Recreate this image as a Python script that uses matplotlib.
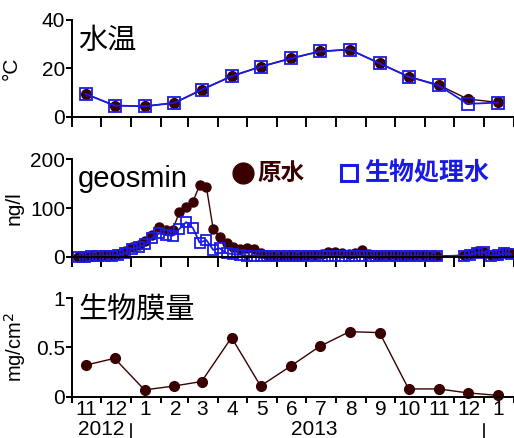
import numpy as np
import matplotlib.pyplot as plt
import matplotlib.dates as mdates
import matplotlib.transforms as mtransforms

plt.rcParams['font.family'] = ['Liberation Sans', 'Noto Sans CJK JP']

maroon = '#3a0000'
blue = '#1a1ae6'

# monthly samples (water temp, biofilm)
month_dates = ['2012-11-15', '2012-12-15', '2013-01-15', '2013-02-15', '2013-03-15',
               '2013-04-15', '2013-05-15', '2013-06-15', '2013-07-15', '2013-08-15',
               '2013-09-15', '2013-10-15', '2013-11-15', '2013-12-15', '2014-01-15']
temp_raw = [9.5, 4.7, 4.4, 5.8, 11.2, 16.8, 20.7, 24.1, 27.0, 27.8, 22.1, 16.6, 13.2, 7.4, 6.0]
temp_bio = [9.5, 4.7, 4.4, 5.8, 11.2, 16.8, 20.7, 24.1, 27.0, 27.8, 22.1, 16.6, 13.0, 5.4, 5.9]
biofilm = [0.32, 0.39, 0.07, 0.11, 0.155, 0.60, 0.11, 0.31, 0.51, 0.66, 0.65, 0.08, 0.08, 0.04, 0.015]

# weekly geosmin samples
geo_dates = ['2012-11-07', '2012-11-14', '2012-11-21', '2012-11-28',
             '2012-12-05', '2012-12-12', '2012-12-19', '2012-12-26',
             '2013-01-02', '2013-01-09', '2013-01-16', '2013-01-23', '2013-01-30',
             '2013-02-06', '2013-02-13', '2013-02-20', '2013-02-27',
             '2013-03-06', '2013-03-13', '2013-03-20', '2013-03-27',
             '2013-04-03', '2013-04-10', '2013-04-17', '2013-04-24',
             '2013-05-01', '2013-05-08', '2013-05-15', '2013-05-22', '2013-05-29',
             '2013-06-05', '2013-06-12', '2013-06-19', '2013-06-26',
             '2013-07-03', '2013-07-10', '2013-07-17', '2013-07-24', '2013-07-31',
             '2013-08-07', '2013-08-14', '2013-08-21', '2013-08-28',
             '2013-09-04', '2013-09-11', '2013-09-18', '2013-09-25',
             '2013-10-02', '2013-10-09', '2013-10-16', '2013-10-23', '2013-10-30',
             '2013-11-06', '2013-11-13',
             '2013-12-11', '2013-12-18', '2013-12-25',
             '2014-01-01', '2014-01-08', '2014-01-15', '2014-01-22', '2014-01-29']
geo_raw = [0, 0, 1, 2, 3, 4, 6, 11, 20, 24, 32, 45, 61, 55, 55, 91, 103, 113,
           147, 143, 57, 40, 29, 20, 15, 17, 16, 7, 3, 2,
           2, 2, 2, 2, 3, 4, 5, 10, 10, 8, 5, 7, 14, 5, 4, 3, 3, 3, 2, 4, 3, 3, 2, 1,
           3, 5, 11, 10, 3, 4, 9, 7]
geo_bio = [0, 0, 1, 1, 2, 2, 3, 7, 16, 19, 26, 38, 48, 45, 43, 57, 71, 59,
           29, 34, 14, 17, 7, 5, 4, 2, 2, 1, 1, 1,
           1, 1, 1, 1, 1, 2, 2, 2, 2, 2, 1, 2, 2, 1, 1, 1, 1, 1, 1, 1, 1, 1, 1, 1,
           2, 4, 8, 9, 2, 3, 7, 5]

month_labels = ['11', '12', '1', '2', '3', '4', '5', '6', '7', '8', '9', '10', '11', '12', '1']

md = np.array(month_dates, dtype='datetime64[D]')
gd = np.array(geo_dates, dtype='datetime64[D]')
x0 = np.datetime64('2012-11-01')
x1 = np.datetime64('2014-02-01')

fig = plt.figure(figsize=(5.14, 4.38), dpi=100)
ax1 = fig.add_axes([0.140, 0.733, 0.860, 0.2215])
ax2 = fig.add_axes([0.140, 0.414, 0.860, 0.222])
ax3 = fig.add_axes([0.140, 0.094, 0.860, 0.2255])

for ax in (ax1, ax2, ax3):
    for s in ('top', 'right'):
        ax.spines[s].set_visible(False)
    for s in ('left', 'bottom'):
        ax.spines[s].set_linewidth(1.4)
    ax.set_xlim(x0, x1)
    ax.xaxis.set_major_locator(mdates.MonthLocator())
    ax.xaxis.set_major_formatter(plt.NullFormatter())
    ax.tick_params(axis='y', direction='out', length=4, width=1.4, labelsize=15, pad=1)
    ax.tick_params(axis='x', direction='out', length=7, width=1.4)

# water temperature
ax1.plot(md, temp_raw, '-o', color=maroon, lw=1, ms=7, clip_on=False)
ax1.plot(md, temp_bio, '-s', color=blue, lw=1.3, ms=8, mfc='none', mew=1.3, clip_on=False)
ax1.set_ylim(0, 40)
ax1.set_yticks([0, 20, 40])
ax1.text(0.014, 0.78, '水温', transform=ax1.transAxes, fontsize=21, va='center', ha='left')

# geosmin
ax2.plot(gd, geo_raw, '-o', color=maroon, lw=1, ms=6.5, clip_on=False)
ax2.plot(gd, geo_bio, '-s', color=blue, lw=1.3, ms=7.5, mfc='none', mew=1.3, clip_on=False)
ax2.set_ylim(0, 200)
ax2.set_yticks([0, 100, 200])
ax2.text(0.014, 0.80, 'geosmin', transform=ax2.transAxes, fontsize=21, va='center', ha='left')

# legend keys drawn as big markers next to the names
ax2.plot([0.386], [0.86], 'o', color=maroon, ms=15, transform=ax2.transAxes, clip_on=False)
ax2.text(0.420, 0.86, '原水', transform=ax2.transAxes, fontsize=17, va='center',
         ha='left', color=maroon, fontweight='bold')
ax2.plot([0.627], [0.86], 's', color=blue, ms=12, mfc='none', mew=2.2,
         transform=ax2.transAxes, clip_on=False)
ax2.text(0.662, 0.86, '生物処理水', transform=ax2.transAxes, fontsize=18, va='center',
         ha='left', color=blue, fontweight='bold')

# biofilm
ax3.plot(md, biofilm, '-o', color=maroon, lw=1, ms=7, clip_on=False)
ax3.set_ylim(0, 1)
ax3.set_yticks([0, 0.5, 1])
ax3.set_yticklabels(['0', '0.5', '1'])
ax3.text(0.014, 0.87, '生物膜量', transform=ax3.transAxes, fontsize=21, va='center', ha='left')
ax3.tick_params(axis='x', length=4)
ax3.xaxis.set_minor_locator(mdates.MonthLocator(bymonthday=16))
ax3.xaxis.set_minor_formatter(plt.FixedFormatter(month_labels))
ax3.tick_params(axis='x', which='minor', length=0, labelsize=15, pad=2)

# year row under the month labels
trans = mtransforms.blended_transform_factory(ax3.transData, ax3.transAxes)
ax3.text(mdates.date2num(np.datetime64('2012-12-01')), -0.33, '2012', transform=trans,
         fontsize=15, ha='center', va='center')
ax3.text(mdates.date2num(np.datetime64('2013-07-10')), -0.33, '2013', transform=trans,
         fontsize=15, ha='center', va='center')
for d in ('2013-01-01', '2014-01-01'):
    xd = mdates.date2num(np.datetime64(d))
    ax3.plot([xd, xd], [-0.28, -0.42], color='black', lw=1.2, transform=trans, clip_on=False)

ax1.set_ylabel('°C', fontsize=15)
ax2.set_ylabel('ng/l', fontsize=15)
ax3.set_ylabel('mg/cm$^2$', fontsize=14.5)
ax1.yaxis.set_label_coords(-0.115, 0.5)
ax2.yaxis.set_label_coords(-0.11, 0.5)
ax3.yaxis.set_label_coords(-0.10, 0.5)

fig.savefig('out.png', dpi=100)
